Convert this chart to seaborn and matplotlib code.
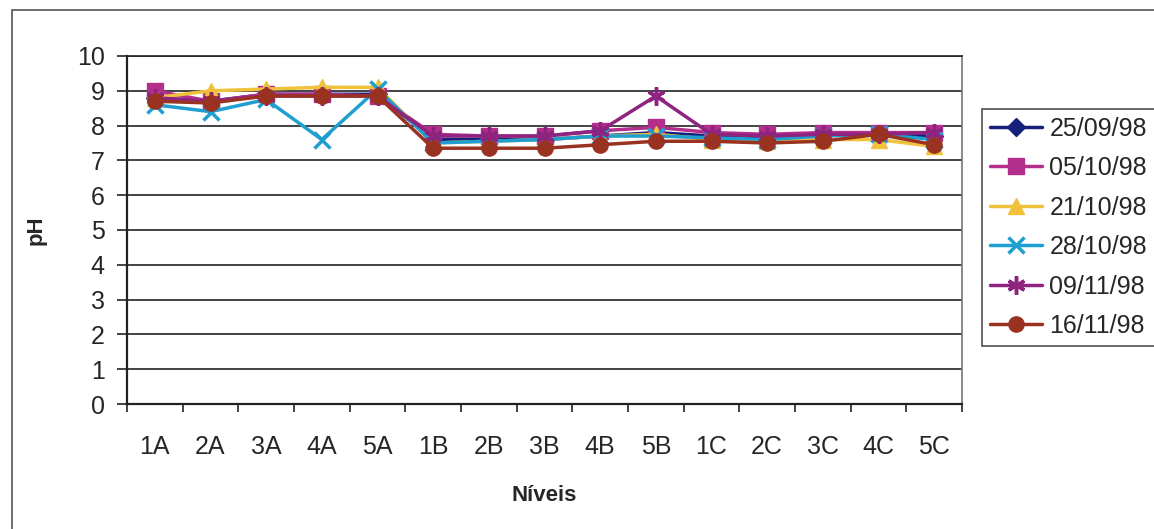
import matplotlib
matplotlib.use("Agg")
import matplotlib.pyplot as plt
from matplotlib.patches import Rectangle
import seaborn as sns
import pandas as pd

categories = ['1A', '2A', '3A', '4A', '5A', '1B', '2B', '3B', '4B', '5B',
              '1C', '2C', '3C', '4C', '5C']
dates = ['25/09/98', '05/10/98', '21/10/98', '28/10/98', '09/11/98', '16/11/98']

ph_25_09 = [8.8, 8.7, 8.9, 8.9, 8.9, 7.6, 7.6, 7.6, 7.7, 7.8, 7.7, 7.65, 7.75, 7.75, 7.7]
ph_05_10 = [9.0, 8.7, 8.9, 8.9, 8.85, 7.75, 7.7, 7.7, 7.85, 7.95, 7.8, 7.75, 7.8, 7.8, 7.8]
ph_21_10 = [8.8, 9.0, 9.05, 9.1, 9.1, 7.5, 7.55, 7.6, 7.7, 7.75, 7.6, 7.55, 7.6, 7.6, 7.4]
ph_28_10 = [8.6, 8.4, 8.75, 7.6, 9.05, 7.5, 7.55, 7.6, 7.7, 7.7, 7.65, 7.6, 7.7, 7.75, 7.6]
ph_09_11 = [8.8, 8.7, 8.85, 8.85, 8.85, 7.7, 7.7, 7.7, 7.85, 8.85, 7.75, 7.7, 7.75, 7.75, 7.8]
ph_16_11 = [8.7, 8.65, 8.85, 8.85, 8.85, 7.35, 7.35, 7.35, 7.45, 7.55, 7.55, 7.5, 7.55, 7.75, 7.45]

series = [ph_25_09, ph_05_10, ph_21_10, ph_28_10, ph_09_11, ph_16_11]
colors = ['#14207a', '#b42e8c', '#f0c23c', '#1f9fd0', '#8e2480', '#9a3222']
markers = ['D', 's', '^', 'x', (6, 2, 0), 'o']
msizes = [9, 11, 11, 12, 13, 11]

sns.set_theme(style="white")
plt.rcParams['font.family'] = ['Liberation Sans', 'DejaVu Sans']

fig = plt.figure(figsize=(11.54, 5.29), dpi=100)
ax = fig.add_axes([127 / 1154, 1 - 404 / 529, (962 - 127) / 1154, (404 - 56) / 529])

for vals, date, c, m, ms in zip(series, dates, colors, markers, msizes):
    df = pd.DataFrame({'Níveis': categories, 'pH': vals})
    sns.lineplot(data=df, x='Níveis', y='pH', sort=False, color=c, marker=m,
                 markersize=ms, linewidth=2.5, markeredgecolor=c,
                 markeredgewidth=2.5 if m in ('x', (6, 2, 0)) else 1,
                 label=date, ax=ax, zorder=3)

ax.set_xlim(-0.5, len(categories) - 0.5)
ax.set_ylim(0, 10)
ax.set_yticks(range(0, 11))
ax.yaxis.grid(True, color='#222222', linewidth=1.2)
ax.xaxis.grid(False)
ax.set_xticks(range(len(categories)))
ax.set_xticklabels(categories)
ax.set_xticks([i - 0.5 for i in range(len(categories) + 1)], minor=True)
ax.tick_params(axis='x', which='major', length=0, pad=22, labelsize=18)
ax.tick_params(axis='x', which='minor', length=6, width=1.2, color='#222222', direction='out', bottom=True)
ax.tick_params(axis='y', length=7, width=1.2, color='#222222', direction='out', left=True, labelsize=18, pad=9)

for side, sp in ax.spines.items():
    sp.set_visible(True)
    sp.set_color('#222222')
    sp.set_linewidth(1.2)
ax.spines['left'].set_linewidth(1.6)
ax.spines['bottom'].set_linewidth(1.6)
ax.spines['right'].set_color('#777777')

ax.set_xlabel('Níveis', fontsize=16, fontweight='bold', labelpad=19)
ax.set_ylabel('pH', fontsize=16, fontweight='bold', labelpad=22)

leg = ax.legend(loc='center left',
                bbox_to_anchor=(982 / 1154, 1 - 348 / 529, 0.2, (348 - 107) / 529),
                bbox_transform=fig.transFigure, mode='expand',
                frameon=True, fancybox=False,
                edgecolor='#222222', fontsize=18, handlelength=2.1,
                labelspacing=0.62, borderpad=0.3, handletextpad=0.3,
                borderaxespad=0)
leg.get_frame().set_linewidth(1.2)

fig.patches.append(Rectangle((12 / 1154, -0.1), 1.2, 1 - 10 / 529 + 0.1,
                             transform=fig.transFigure, fill=False,
                             edgecolor='#555555', linewidth=1.2))

fig.savefig('out.png', dpi=100)
